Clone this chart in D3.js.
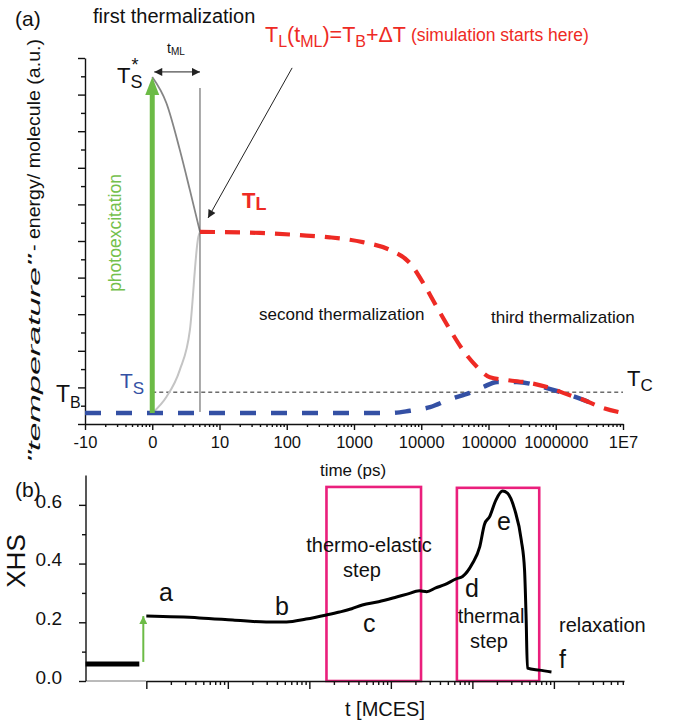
<!DOCTYPE html>
<html>
<head>
<meta charset="utf-8">
<script src="https://cdn.jsdelivr.net/npm/d3@7"></script>
<style>
  html, body { margin: 0; padding: 0; background: #fff; }
  svg { display: block; font-family: "Liberation Sans", Arial, Helvetica, sans-serif; }
</style>
</head>
<body>
<svg id="fig" width="673" height="724"></svg>
<script>
// ---------- Panel (a): temperatures after photoexcitation ----------
// x positions are axis decades: 0 = -10 ps, 1 = 0 ps, 2 = 10 ps, ... 8 = 1E7 ps
const timeTickLabels = ["-10", "0", "10", "100", "1000", "10000", "100000", "1000000", "1E7"];

// lattice temperature T_L (red dashed)
const latticeTemp = [
  [1.71, 5.25], [2.60, 5.22], [3.20, 5.16], [3.64, 5.10], [4.13, 4.97], [4.54, 4.75],
  [4.83, 4.40], [5.03, 3.85], [5.23, 3.20], [5.43, 2.57], [5.62, 2.02], [5.83, 1.56],
  [6.02, 1.28], [6.28, 1.20], [6.62, 1.12], [6.87, 1.01], [7.11, 0.85], [7.41, 0.66],
  [7.70, 0.44], [8.00, 0.30]
];
// spin-system temperature T_S (blue dashed)
const spinTemp = [
  [0.00, 0.30], [4.54, 0.30], [4.83, 0.36], [5.13, 0.46], [5.43, 0.68], [5.72, 0.85],
  [5.92, 1.01], [6.13, 1.15], [6.42, 1.15], [6.81, 1.01], [7.11, 0.85], [7.41, 0.66],
  [7.66, 0.47]
];
// first thermalization: hot T_S* cooling and lattice heating up to t_ML
const hotSpinCooling = [[1.00, 9.48], [1.21, 8.77], [1.41, 7.49], [1.56, 6.39], [1.71, 5.25]];
const latticeHeating = [[1.00, 0.30], [1.21, 0.74], [1.41, 1.48], [1.56, 2.57], [1.685, 5.11], [1.71, 5.25]];

const photoexcitation = { t: 1.00, from: 0.30, to: 9.48 };
const tML = { from: 1.00, to: 1.71, level: 9.62, lineTop: 9.18, lineBottom: 0.33 };
const bathLevel = { value: 0.87, from: 1.00, to: 8.00 };
const startPointer = { from: [3.08, 9.73], to: [1.83, 5.63] };

// ---------- Panel (b): high-spin fraction in MCES ----------
const xhsTicks = [0, 0.2, 0.4, 0.6];
const xhsTickLabels = ["0.0", "0.2", "0.4", "0.6"];
const xhsMinorTicks = [0.1, 0.3, 0.5];
// x positions in decades of MC steps (0 = first major tick)
const xhsBefore = [[-0.745, 0.058], [-0.086, 0.058]];
const xhsCurve = [
  [0.00, 0.221], [0.65, 0.215], [1.06, 0.208], [1.47, 0.201], [1.72, 0.201], [1.96, 0.211],
  [2.21, 0.225], [2.37, 0.235], [2.52, 0.246], [2.65, 0.259], [2.85, 0.270], [3.07, 0.286],
  [3.20, 0.296], [3.35, 0.307], [3.44, 0.304], [3.55, 0.317], [3.66, 0.328], [3.80, 0.348],
  [3.88, 0.356], [4.00, 0.400], [4.09, 0.457], [4.15, 0.535], [4.21, 0.559], [4.29, 0.617],
  [4.37, 0.647], [4.43, 0.640], [4.52, 0.583], [4.60, 0.480], [4.64, 0.378], [4.66, 0.208],
  [4.675, 0.044], [4.82, 0.037], [4.97, 0.031]
];
const excitationArrow = { t: -0.037, from: 0.065, to: 0.221 };
const stepBoxes = [
  { name: "thermo-elastic", x0: 2.21, x1: 3.37, top: 0.661 },
  { name: "thermal", x0: 3.81, x1: 4.82, top: 0.658 }
];

// ---------- colours ----------
const RED = "#ee2a24", BLUE = "#3450a4", GREEN = "#6cbb46", PINK = "#ea1f7c";

const svg = d3.select("#fig");

// scales
const xA = d3.scaleLinear().domain([0, 8]).range([85, 623]);
const yA = d3.scaleLinear().domain([0, 10]).range([424, 58]);
const xB = d3.scaleLinear().domain([-0.74, 5.86]).range([86, 624]);
const yB = d3.scaleLinear().domain([0, 0.7]).range([681, 475.5]);

// text helper: rich text with sub/superscripts, parts = [{t, size, shift, dx, style, weight}]
function rich(g, x, y, parts, o = {}) {
  const t = g.append("text")
    .attr("transform", `translate(${x},${y})` + (o.rot ? ` rotate(${o.rot})` : ""))
    .attr("fill", o.fill || "#111")
    .attr("text-anchor", o.anchor || "start");
  if (o.len) t.attr("textLength", o.len).attr("lengthAdjust", o.adjust || "spacingAndGlyphs");
  let prev = 0;
  parts.forEach(p => {
    const s = p.shift || 0;
    const ts = t.append("tspan").attr("font-size", p.size).attr("dy", s - prev).text(p.t);
    if (p.dx) ts.attr("dx", p.dx);
    if (p.style) ts.attr("font-style", p.style);
    if (p.weight) ts.attr("font-weight", p.weight);
    if (p.fill) ts.attr("fill", p.fill);
    prev = s;
  });
  return t;
}

// ====================== PANEL (a) ======================
const gA = svg.append("g");

// x axis with log-like minor ticks in every decade
const minorA = [];
for (let i = 0; i < 8; i++) for (let k = 2; k <= 9; k++) minorA.push(i + Math.log10(k));

const xAxisA = gA.append("g").attr("transform", `translate(0,${yA(0)})`)
  .call(d3.axisBottom(xA).tickValues(d3.range(9)).tickFormat((d, i) => timeTickLabels[i])
    .tickSize(6).tickSizeOuter(0).tickPadding(6));
xAxisA.selectAll("text").attr("font-size", 16.5).attr("fill", "#111")
  .attr("font-family", "Liberation Sans, Arial, sans-serif");
gA.append("g").attr("transform", `translate(0,${yA(0)})`)
  .call(d3.axisBottom(xA).tickValues(minorA).tickFormat("").tickSize(3).tickSizeOuter(0))
  .select(".domain").remove();

// y axis without labels, half-step minor ticks
gA.append("g").attr("transform", `translate(${xA(0)},0)`)
  .call(d3.axisLeft(yA).tickValues(d3.range(0, 11)).tickFormat("").tickSize(7).tickSizeOuter(0));
gA.append("g").attr("transform", `translate(${xA(0)},0)`)
  .call(d3.axisLeft(yA).tickValues(d3.range(0.5, 10, 1)).tickFormat("").tickSize(4).tickSizeOuter(0))
  .select(".domain").remove();
gA.selectAll(".domain, .tick line").attr("stroke", "#111").attr("stroke-width", 1.4);

const lineA = d3.line().x(d => xA(d[0])).y(d => yA(d[1])).curve(d3.curveMonotoneX);

// bath / crossover level
gA.append("line")
  .attr("x1", xA(bathLevel.from)).attr("x2", xA(bathLevel.to))
  .attr("y1", yA(bathLevel.value)).attr("y2", yA(bathLevel.value))
  .attr("stroke", "#222").attr("stroke-width", 1).attr("stroke-dasharray", "4,3");

// first thermalization curves
gA.append("path").attr("d", lineA(latticeHeating)).attr("fill", "none")
  .attr("stroke", "#c4c4c4").attr("stroke-width", 2);
gA.append("path").attr("d", lineA(hotSpinCooling)).attr("fill", "none")
  .attr("stroke", "#858585").attr("stroke-width", 1.8);

// vertical marker at t_ML
gA.append("line")
  .attr("x1", xA(tML.to)).attr("x2", xA(tML.to))
  .attr("y1", yA(tML.lineTop)).attr("y2", yA(tML.lineBottom))
  .attr("stroke", "#555").attr("stroke-width", 1);

// T_S then T_L dashed curves
gA.append("path").attr("d", lineA(spinTemp)).attr("fill", "none")
  .attr("stroke", BLUE).attr("stroke-width", 4.5).attr("stroke-dasharray", "16,15");
gA.append("path").attr("d", lineA(latticeTemp)).attr("fill", "none")
  .attr("stroke", RED).attr("stroke-width", 4.2).attr("stroke-dasharray", "15,10");

// photoexcitation arrow
{
  const x = xA(photoexcitation.t), yTip = yA(photoexcitation.to), yBase = yA(photoexcitation.from);
  gA.append("line").attr("x1", x).attr("x2", x).attr("y1", yBase).attr("y2", yTip + 14)
    .attr("stroke", GREEN).attr("stroke-width", 5);
  gA.append("path")
    .attr("d", d3.line()([[x, yTip], [x - 7, yTip + 18], [x + 7, yTip + 18]]) + "Z")
    .attr("fill", GREEN);
}

// arrowhead markers
const defs = svg.append("defs");
defs.append("marker").attr("id", "ah").attr("viewBox", "0 0 10 10").attr("refX", 10).attr("refY", 5)
  .attr("markerWidth", 10).attr("markerHeight", 8).attr("markerUnits", "userSpaceOnUse")
  .attr("orient", "auto-start-reverse")
  .append("path").attr("d", "M0,0 L10,5 L0,10 Z").attr("fill", "#222");
defs.append("marker").attr("id", "ahg").attr("viewBox", "0 0 10 10").attr("refX", 10).attr("refY", 5)
  .attr("markerWidth", 11).attr("markerHeight", 8).attr("markerUnits", "userSpaceOnUse")
  .attr("orient", "auto")
  .append("path").attr("d", "M0,0 L10,5 L0,10 Z").attr("fill", GREEN);

// t_ML double arrow
gA.append("line")
  .attr("x1", xA(tML.from) + 2).attr("x2", xA(tML.to))
  .attr("y1", yA(tML.level)).attr("y2", yA(tML.level))
  .attr("stroke", "#222").attr("stroke-width", 1)
  .attr("marker-start", "url(#ah)").attr("marker-end", "url(#ah)");

// pointer to the simulation start
gA.append("line")
  .attr("x1", xA(startPointer.from[0])).attr("y1", yA(startPointer.from[1]))
  .attr("x2", xA(startPointer.to[0])).attr("y2", yA(startPointer.to[1]))
  .attr("stroke", "#222").attr("stroke-width", 1)
  .attr("marker-end", "url(#ah)");

// ---- panel (a) texts ----
rich(gA, 15, 26, [{ t: "(a)", size: 21 }]);
rich(gA, 93, 23, [{ t: "first thermalization", size: 20 }]);
rich(gA, 167, 53, [{ t: "t", size: 14 }, { t: "ML", size: 10, shift: 2 }]);
rich(gA, 117, 83, [
  { t: "T", size: 22 }, { t: "S", size: 18, shift: 5 },
  { t: "*", size: 18, shift: -12, dx: -11 }
]);
rich(gA, 265, 42, [
  { t: "T", size: 21.5 }, { t: "L", size: 16, shift: 5 }, { t: "(t", size: 21.5 },
  { t: "ML", size: 16, shift: 5 }, { t: ")=T", size: 21.5 }, { t: "B", size: 16, shift: 5 },
  { t: "+\u0394T", size: 21.5 }, { t: " (simulation starts here)", size: 17.5, shift: -1 }
], { fill: RED });
rich(gA, 242, 208, [{ t: "T", size: 22, weight: "bold" }, { t: "L", size: 18, weight: "bold", shift: 2 }], { fill: RED });
rich(gA, 121, 233, [{ t: "photoexcitation", size: 17.5 }], { rot: -90, anchor: "middle", fill: "#74c04c" });
rich(gA, 259, 320, [{ t: "second thermalization", size: 17 }]);
rich(gA, 491, 323, [{ t: "third thermalization", size: 17 }]);
rich(gA, 120, 388, [{ t: "T", size: 21 }, { t: "S", size: 17, shift: 6 }], { fill: BLUE });
rich(gA, 56, 402, [{ t: "T", size: 23 }, { t: "B", size: 16, shift: 6 }]);
rich(gA, 627, 386, [{ t: "T", size: 22 }, { t: "C", size: 17, shift: 5 }]);
rich(gA, 353, 476, [{ t: "time (ps)", size: 17 }], { anchor: "middle" });
// y label in two pieces
rich(gA, 40, 463, [{ t: "\"temperature\"", size: 17 }], { rot: -90, len: 208 })
  .selectAll("tspan").attr("font-style", "italic");
rich(gA, 40, 251, [{ t: "- energy/ molecule (a.u.)", size: 19 }], { rot: -90, len: 212 });

// ====================== PANEL (b) ======================
const gB = svg.append("g");

// step boxes
stepBoxes.forEach(b => {
  gB.append("rect")
    .attr("x", xB(b.x0)).attr("y", yB(b.top))
    .attr("width", xB(b.x1) - xB(b.x0)).attr("height", yB(0) - yB(b.top))
    .attr("fill", "none").attr("stroke", PINK).attr("stroke-width", 2.6);
});

// x axis: thin lead-in then log-spaced ticks
gB.append("line").attr("x1", xB(-0.74)).attr("x2", xB(0)).attr("y1", yB(0)).attr("y2", yB(0))
  .attr("stroke", "#777").attr("stroke-width", 1);
const xbScale = d3.scaleLinear().domain([0, 5.86]).range([xB(0), xB(5.86)]);
const minorB = [];
for (let i = 0; i < 6; i++) for (let k = 2; k <= 9; k++) { const v = i + Math.log10(k); if (v <= 5.86) minorB.push(v); }
gB.append("g").attr("transform", `translate(0,${yB(0)})`)
  .call(d3.axisBottom(xbScale).tickValues(d3.range(6)).tickFormat("").tickSize(8).tickSizeOuter(0));
gB.append("g").attr("transform", `translate(0,${yB(0)})`)
  .call(d3.axisBottom(xbScale).tickValues(minorB).tickFormat("").tickSize(4).tickSizeOuter(0))
  .select(".domain").remove();

// y axis
const yAxisB = gB.append("g").attr("transform", `translate(${xB(-0.74)},0)`)
  .call(d3.axisLeft(yB).tickValues(xhsTicks).tickFormat((d, i) => xhsTickLabels[i])
    .tickSize(7).tickSizeOuter(0).tickPadding(17));
yAxisB.select(".domain").attr("d", `M0,${yB(0.7)}V${yB(0)}`);
yAxisB.selectAll("text").attr("font-size", 19).attr("fill", "#111").attr("dy", "0.12em")
  .attr("font-family", "Liberation Sans, Arial, sans-serif");
gB.append("g").attr("transform", `translate(${xB(-0.74)},0)`)
  .call(d3.axisLeft(yB).tickValues(xhsMinorTicks).tickFormat("").tickSize(4).tickSizeOuter(0))
  .select(".domain").remove();
gB.selectAll(".domain, .tick line").attr("stroke", "#111").attr("stroke-width", 1.4);

const lineB = d3.line().x(d => xB(d[0])).y(d => yB(d[1])).curve(d3.curveMonotoneX);

gB.append("path").attr("d", lineB(xhsBefore)).attr("fill", "none")
  .attr("stroke", "#000").attr("stroke-width", 5);
gB.append("path").attr("d", lineB(xhsCurve)).attr("fill", "none")
  .attr("stroke", "#000").attr("stroke-width", 3).attr("stroke-linejoin", "round");

gB.append("line")
  .attr("x1", xB(excitationArrow.t)).attr("x2", xB(excitationArrow.t))
  .attr("y1", yB(excitationArrow.from)).attr("y2", yB(excitationArrow.to))
  .attr("stroke", GREEN).attr("stroke-width", 2).attr("marker-end", "url(#ahg)");

// ---- panel (b) texts ----
rich(gB, 15, 497, [{ t: "(b)", size: 21 }]);
rich(gB, 25, 561, [{ t: "XHS", size: 26 }], { rot: -90, anchor: "middle" });
rich(gB, 159, 601, [{ t: "a", size: 25 }]);
rich(gB, 275, 615, [{ t: "b", size: 25 }]);
rich(gB, 363, 632, [{ t: "c", size: 25 }]);
rich(gB, 465, 597, [{ t: "d", size: 25 }]);
rich(gB, 497, 530, [{ t: "e", size: 25 }]);
rich(gB, 559, 668, [{ t: "f", size: 25 }]);
rich(gB, 369, 552, [{ t: "thermo-elastic", size: 20 }], { anchor: "middle" });
rich(gB, 362, 577, [{ t: "step", size: 20 }], { anchor: "middle" });
rich(gB, 491, 623, [{ t: "thermal", size: 20 }], { anchor: "middle" });
rich(gB, 489, 648, [{ t: "step", size: 20 }], { anchor: "middle" });
rich(gB, 559, 632, [{ t: "relaxation", size: 20 }]);
rich(gB, 385, 716, [{ t: "t [MCES]", size: 20 }], { anchor: "middle" });
</script>
</body>
</html>
